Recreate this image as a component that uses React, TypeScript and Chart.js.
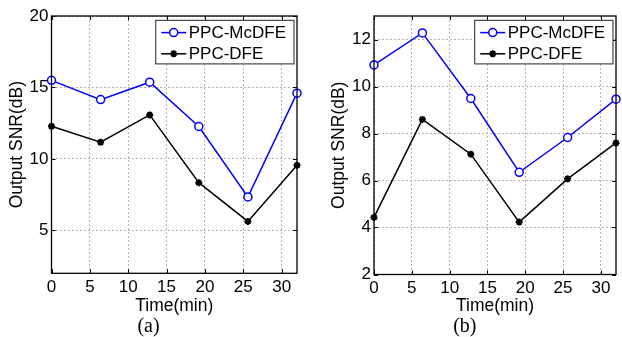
import React, { useEffect, useRef } from "react";
import { Chart, registerables } from "chart.js";

Chart.register(...registerables);

// ---- data ----
const TIME = [0, 6.4, 12.8, 19.2, 25.6, 32];
const A_MCDFE = [15.5, 14.15, 15.37, 12.27, 7.34, 14.6];
const A_DFE = [12.29, 11.17, 13.08, 8.34, 5.63, 9.56];
const B_MCDFE = [10.92, 12.28, 9.49, 6.35, 7.83, 9.46];
const B_DFE = [4.43, 8.6, 7.12, 4.23, 6.07, 7.6];
const X_TICKS = [0, 5, 10, 15, 20, 25, 30];
const A_Y_TICKS = [5, 10, 15, 20];
const B_Y_TICKS = [2, 4, 6, 8, 10, 12];
const SERIES_LABELS = ["PPC-McDFE", "PPC-DFE"];
const X_TITLE = "Time(min)";
const Y_TITLE = "Output SNR(dB)";
const PANEL_LABELS = ["(a)", "(b)"];

const SANS = '"Liberation Sans", Arial, sans-serif';
const SERIF = '"Liberation Serif", "Times New Roman", serif';

function drawMarker(ctx: CanvasRenderingContext2D, style: string, x: number, y: number, r: number, color: string, lw: number) {
  ctx.save();
  ctx.strokeStyle = color;
  ctx.lineWidth = lw;
  if (style === "circle") {
    ctx.fillStyle = "#fff";
    ctx.beginPath();
    ctx.arc(x, y, r, 0, Math.PI * 2);
    ctx.fill();
    ctx.stroke();
  } else {
    ctx.beginPath();
    for (let k = 0; k < 4; k++) {
      const ang = (k * Math.PI) / 4;
      const dx = Math.cos(ang) * r;
      const dy = Math.sin(ang) * r;
      ctx.moveTo(x - dx, y - dy);
      ctx.lineTo(x + dx, y + dy);
    }
    ctx.stroke();
  }
  ctx.restore();
}

const framePlugin = {
  id: "frame",
  afterDraw(chart: any) {
    const { ctx, chartArea: a, scales } = chart;
    ctx.save();
    ctx.strokeStyle = "#000";
    ctx.lineWidth = 1;
    ctx.setLineDash([]);
    ctx.beginPath();
    scales.x.ticks.forEach((t: any) => {
      const px = Math.round(scales.x.getPixelForValue(t.value)) + 0.5;
      ctx.moveTo(px, a.bottom);
      ctx.lineTo(px, a.bottom - 4);
      ctx.moveTo(px, a.top);
      ctx.lineTo(px, a.top + 4);
    });
    scales.y.ticks.forEach((t: any) => {
      const py = Math.round(scales.y.getPixelForValue(t.value)) + 0.5;
      ctx.moveTo(a.left, py);
      ctx.lineTo(a.left + 4, py);
      ctx.moveTo(a.right, py);
      ctx.lineTo(a.right - 4, py);
    });
    ctx.stroke();
    ctx.lineWidth = 1.3;
    ctx.strokeRect(a.left, a.top, a.right - a.left, a.bottom - a.top);

    // legend box
    const ds = chart.data.datasets;
    ctx.font = "17px " + SANS;
    const maxW = Math.max(...ds.map((d: any) => ctx.measureText(d.label).width));
    const padL = 5.5, sample = 25, gap = 2.5, padR = 8, rowH = 21.2;
    const w = padL + sample + gap + maxW + padR;
    const h = 43.6;
    const x0 = a.right - 3 - w;
    const y0 = a.top + 4.3;
    ctx.fillStyle = "#fff";
    ctx.fillRect(x0, y0, w, h);
    ctx.strokeStyle = "#222";
    ctx.lineWidth = 1;
    ctx.strokeRect(x0, y0, w, h);
    ds.forEach((d: any, i: number) => {
      const cy = y0 + 12.3 + i * rowH;
      ctx.strokeStyle = d.borderColor;
      ctx.lineWidth = d.borderWidth;
      ctx.beginPath();
      ctx.moveTo(x0 + padL, cy);
      ctx.lineTo(x0 + padL + sample, cy);
      ctx.stroke();
      drawMarker(ctx, d.pointStyle, x0 + padL + sample / 2, cy, d.pointRadius, d.pointBorderColor, d.pointBorderWidth);
      ctx.fillStyle = "#000";
      ctx.textAlign = "left";
      ctx.textBaseline = "middle";
      ctx.fillText(d.label, x0 + padL + sample + gap, cy + 0.5);
    });
    ctx.restore();
  },
};

type PanelProps = {
  left: number;
  mcdfe: number[];
  dfe: number[];
  yTicks: number[];
  yMin: number;
  yMax: number;
  yWidth: number;
  xHeight: number;
  padRight: number;
  yTitlePad: number;
  label: string;
};

function Panel(p: PanelProps) {
  const ref = useRef<HTMLCanvasElement | null>(null);
  useEffect(() => {
    if (!ref.current) return;
    const chart = new Chart(ref.current, {
      type: "line",
      data: {
        datasets: [
          {
            label: SERIES_LABELS[0],
            data: TIME.map((t, i) => ({ x: t, y: p.mcdfe[i] })),
            borderColor: "#0000ff",
            borderWidth: 1.5,
            pointStyle: "circle",
            pointRadius: 4,
            pointBorderWidth: 1.5,
            pointBorderColor: "#0000ff",
            pointBackgroundColor: "#ffffff",
            clip: false,
            tension: 0,
          } as any,
          {
            label: SERIES_LABELS[1],
            data: TIME.map((t, i) => ({ x: t, y: p.dfe[i] })),
            borderColor: "#000000",
            borderWidth: 1.5,
            pointStyle: "star",
            pointRadius: 3.5,
            pointBorderWidth: 2,
            pointBorderColor: "#000000",
            pointBackgroundColor: "#000000",
            clip: false,
            tension: 0,
          } as any,
        ],
      },
      options: {
        animation: false,
        responsive: false,
        events: [],
        layout: { padding: { left: 0, right: p.padRight, top: 16, bottom: 0 } },
        plugins: {
          legend: { display: false },
          tooltip: { enabled: false },
          title: {
            display: true,
            position: "bottom",
            text: p.label,
            color: "#000",
            font: { family: SERIF, size: 20, weight: "normal", lineHeight: 1 },
            padding: 0,
          },
        },
        scales: {
          x: {
            type: "linear",
            min: 0,
            max: 32,
            afterBuildTicks: (s: any) => {
              s.ticks = X_TICKS.map((v) => ({ value: v }));
            },
            afterFit: (s: any) => {
              s.height = p.xHeight;
            },
            ticks: {
              color: "#000",
              font: { family: SANS, size: 17 },
              padding: 4,
              maxRotation: 0,
              autoSkip: false,
            },
            grid: { color: "#b4b4b4", drawTicks: false, lineWidth: 1 },
            border: { display: false, dash: [2, 2] },
            title: {
              display: true,
              text: X_TITLE,
              color: "#000",
              font: { family: SANS, size: 17.5 },
              padding: { top: 0, bottom: 0 },
            },
          },
          y: {
            type: "linear",
            min: p.yMin,
            max: p.yMax,
            afterBuildTicks: (s: any) => {
              s.ticks = p.yTicks.map((v) => ({ value: v }));
            },
            afterFit: (s: any) => {
              s.width = p.yWidth;
            },
            ticks: {
              color: "#000",
              font: { family: SANS, size: 17 },
              padding: 3,
              autoSkip: false,
            },
            grid: { color: "#b4b4b4", drawTicks: false, lineWidth: 1 },
            border: { display: false, dash: [2, 2] },
            title: {
              display: true,
              text: Y_TITLE,
              color: "#000",
              font: { family: SANS, size: 17.5 },
              padding: { top: p.yTitlePad, bottom: 0 },
            },
          },
        },
      } as any,
      plugins: [framePlugin as any],
    });
    return () => chart.destroy();
  }, []);
  return (
    <div style={{ position: "absolute", left: p.left, top: 0, width: 311, height: 337 }}>
      <canvas ref={ref} width={311} height={337} style={{ width: 311, height: 337, display: "block" }} />
    </div>
  );
}

export default function App() {
  return (
    <div style={{ position: "fixed", left: 0, top: 0, width: 622, height: 337, background: "#fff", overflow: "hidden" }}>
      <Panel
        left={0}
        mcdfe={A_MCDFE}
        dfe={A_DFE}
        yTicks={A_Y_TICKS}
        yMin={2}
        yMax={20}
        yWidth={51.5}
        xHeight={43.7}
        padRight={14}
        yTitlePad={7}
        label={PANEL_LABELS[0]}
      />
      <Panel
        left={311}
        mcdfe={B_MCDFE}
        dfe={B_DFE}
        yTicks={B_Y_TICKS}
        yMin={2}
        yMax={13}
        yWidth={63}
        xHeight={42.5}
        padRight={3.3}
        yTitlePad={17.5}
        label={PANEL_LABELS[1]}
      />
    </div>
  );
}
